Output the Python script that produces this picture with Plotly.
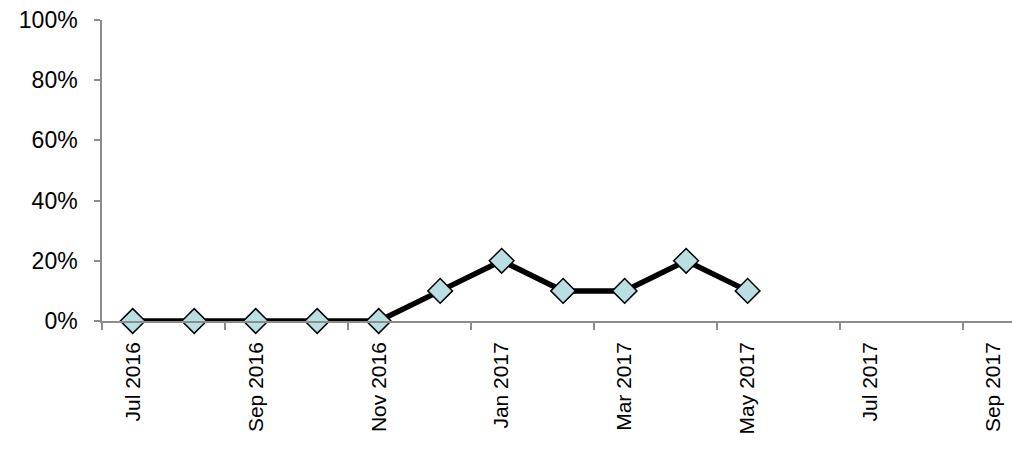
import plotly.graph_objects as go

months = ["Jul 2016", "Aug 2016", "Sep 2016", "Oct 2016", "Nov 2016", "Dec 2016",
          "Jan 2017", "Feb 2017", "Mar 2017", "Apr 2017", "May 2017", "Jun 2017",
          "Jul 2017", "Aug 2017", "Sep 2017"]
values = [0.0, 0.0, 0.0, 0.0, 0.0, 0.10, 0.20, 0.10, 0.10, 0.20, 0.10, None, None, None, None]
y_ticks = [0, 0.2, 0.4, 0.6, 0.8, 1.0]
y_labels = ["0%", "20%", "40%", "60%", "80%", "100%"]

idx = list(range(len(months)))
label_idx = idx[::2]
label_text = [months[i] for i in label_idx]
minor_ticks = [i - 0.5 for i in idx[::2]]

fig = go.Figure()
fig.add_trace(go.Scatter(
    x=idx, y=values, mode="lines+markers",
    line=dict(color="black", width=5.5),
    marker=dict(symbol="diamond", size=19, color="#B9DFE2",
                line=dict(color="black", width=1.5)),
    cliponaxis=False, showlegend=False, connectgaps=False,
))

fig.update_layout(
    width=1012, height=454,
    margin=dict(l=102, r=0, t=20, b=133),
    paper_bgcolor="white", plot_bgcolor="white",
    font=dict(family="Liberation Sans, Arial, sans-serif", color="black"),
    xaxis=dict(
        range=[-0.5, 14.3], showgrid=False, zeroline=False,
        showline=True, linecolor="#8c8c8c", linewidth=1.5,
        tickmode="array", tickvals=label_idx, ticktext=label_text,
        ticks="", tickangle=-90, tickfont=dict(size=21),
        ticklabelstandoff=11,
        minor=dict(tickmode="array", tickvals=minor_ticks, ticks="outside",
                   ticklen=7, tickcolor="#8c8c8c", tickwidth=1.5, showgrid=False),
    ),
    yaxis=dict(
        range=[0, 1], showgrid=False, zeroline=False,
        showline=True, linecolor="#8c8c8c", linewidth=1.5,
        tickmode="array", tickvals=y_ticks, ticktext=y_labels,
        ticks="outside", ticklen=6, tickcolor="#8c8c8c", tickwidth=1.5,
        tickfont=dict(size=23), ticklabelstandoff=12,
    ),
)

fig.write_html("out.html")
